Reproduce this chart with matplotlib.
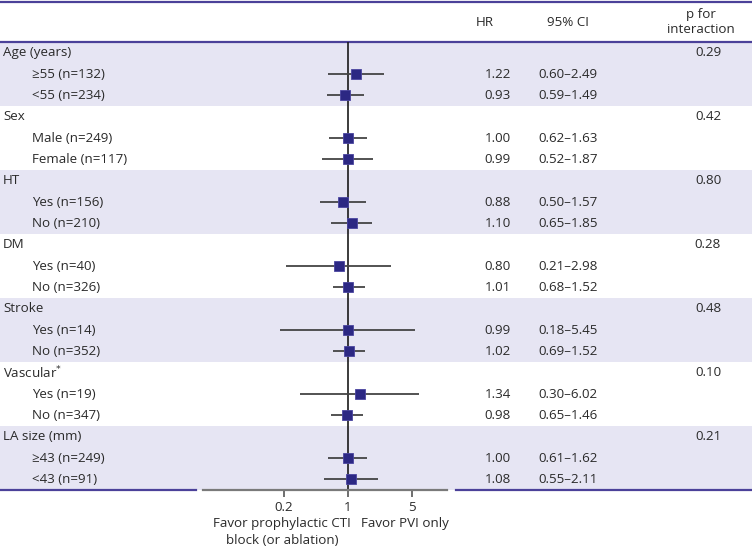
import matplotlib
matplotlib.use('Agg')
import matplotlib.pyplot as plt

plt.rcParams['font.family'] = ['Open Sans', 'DejaVu Sans']

# data
groups = ['Age (years)', 'Sex', 'HT', 'DM', 'Stroke', 'Vascular$^{*}$', 'LA size (mm)']
subgroups = [['≥55 (n=132)', '<55 (n=234)'],
             ['Male (n=249)', 'Female (n=117)'],
             ['Yes (n=156)', 'No (n=210)'],
             ['Yes (n=40)', 'No (n=326)'],
             ['Yes (n=14)', 'No (n=352)'],
             ['Yes (n=19)', 'No (n=347)'],
             ['≥43 (n=249)', '<43 (n=91)']]
hr = [1.22, 0.93, 1.00, 0.99, 0.88, 1.10, 0.80, 1.01, 0.99, 1.02, 1.34, 0.98, 1.00, 1.08]
ci_lo = [0.60, 0.59, 0.62, 0.52, 0.50, 0.65, 0.21, 0.68, 0.18, 0.69, 0.30, 0.65, 0.61, 0.55]
ci_hi = [2.49, 1.49, 1.63, 1.87, 1.57, 1.85, 2.98, 1.52, 5.45, 1.52, 6.02, 1.46, 1.62, 2.11]
p_int = ['0.29', '0.42', '0.80', '0.28', '0.48', '0.10', '0.21']
xticks = [0.2, 1, 5]

W, H = 752, 549
top_px, row_px = 42, 64 / 3
nrows = 3 * len(groups)

purple = '#4b4199'
shade = '#e6e5f3'
txt = '#2a2a2a'
fs = 9.6


def px2row(y):
    return (y - top_px) / row_px


fig = plt.figure(figsize=(W / 100, H / 100), dpi=100)

# background axes: x in pixels, y in row units
bg = fig.add_axes([0, 0, 1, 1])
bg.set_xlim(0, W)
bg.set_ylim(px2row(H), px2row(0))
bg.axis('off')

for g in range(0, len(groups), 2):
    bg.axhspan(3 * g, 3 * g + 3, color=shade, lw=0, zorder=0)

bg.plot([0, W], [px2row(2), px2row(2)], color=purple, lw=1.6)
bg.plot([0, W], [0, 0], color=purple, lw=1.6)
bg.plot([0, 196], [nrows, nrows], color=purple, lw=1.6)
bg.plot([456, W], [nrows, nrows], color=purple, lw=1.6)

hy = px2row(22)
bg.text(485, hy, 'HR', ha='center', va='center', fontsize=fs, color=txt)
bg.text(568, hy, '95% CI', ha='center', va='center', fontsize=fs, color=txt)
bg.text(701, hy, 'p for\ninteraction', ha='center', va='center', fontsize=fs,
        color=txt, linespacing=1.25)

k = 0
for g, name in enumerate(groups):
    r = 3 * g
    bg.text(3, r + 0.5, name, ha='left', va='center', fontsize=fs, color=txt)
    bg.text(708, r + 0.5, p_int[g], ha='center', va='center', fontsize=fs, color=txt)
    for j, sub in enumerate(subgroups[g]):
        y = r + 1.5 + j
        bg.text(32, y, sub, ha='left', va='center', fontsize=fs, color=txt)
        bg.text(511, y, '%.2f' % hr[k], ha='right', va='center', fontsize=fs, color=txt)
        bg.text(568, y, '%.2f\u2013%.2f' % (ci_lo[k], ci_hi[k]), ha='center',
                va='center', fontsize=fs, color=txt)
        k += 1

bg.text(282, px2row(532), 'Favor prophylactic CTI\nblock (or ablation)',
        ha='center', va='center', fontsize=fs, color=txt, linespacing=1.35)
bg.text(405, px2row(523), 'Favor PVI only', ha='center',
        va='center', fontsize=fs, color=txt)

# forest plot
ax = fig.add_axes([203 / W, 1 - (top_px + nrows * row_px) / H, 244 / W, nrows * row_px / H])
ax.patch.set_alpha(0)
ax.set_xscale('log')
ax.set_xlim(0.0261, 12.05)
ax.set_ylim(nrows, 0)
for s in ['top', 'left', 'right']:
    ax.spines[s].set_visible(False)
ax.spines['bottom'].set_color('#7a7a7a')
ax.spines['bottom'].set_linewidth(1.6)
ax.set_yticks([])
ax.set_xticks(xticks)
ax.set_xticklabels(['0.2', '1', '5'])
ax.xaxis.set_minor_locator(matplotlib.ticker.NullLocator())
ax.tick_params(axis='x', direction='out', length=5, width=1.2, color='#555555',
               labelsize=fs, labelcolor=txt, pad=3)

ax.axvline(1, color='#1a1a1a', lw=1.2, zorder=1)

ys = [3 * g + 1.5 + j for g in range(len(groups)) for j in range(2)]
ax.hlines(ys, ci_lo, ci_hi, color='#444444', lw=1.3, zorder=2)
ax.plot(hr, ys, 's', color='#2c2883', markersize=7, markeredgecolor='#4a45a0',
        markeredgewidth=0.6, zorder=3, clip_on=False)

fig.savefig('out.png', dpi=100)
